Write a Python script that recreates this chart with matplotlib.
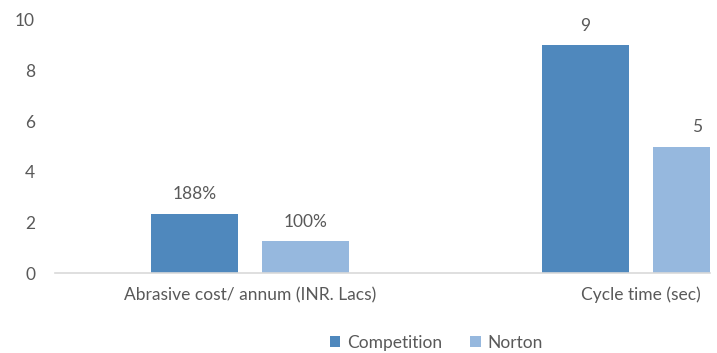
import numpy as np
import matplotlib.pyplot as plt

categories = ["Abrasive cost/ annum (INR. Lacs)", "Cycle time (sec)"]
competition = [2.35, 9]
norton = [1.25, 5]
competition_labels = ["188%", "9"]
norton_labels = ["100%", "5"]

c_dark = "#4f88bd"
c_light = "#96b8de"
txt = "#595959"
fs = 12.5

plt.rcParams["font.family"] = ["Lato", "DejaVu Sans"]

fig = plt.figure(figsize=(7.17, 3.53), dpi=100)
ax = fig.add_axes([54.5 / 717, 80 / 353, (710 - 54.5) / 717, 253 / 353])

x = np.arange(len(categories))
w = 0.2225
off = 0.142

b1 = ax.bar(x - off, competition, w, color=c_dark, label="Competition")
b2 = ax.bar(x + off, norton, w, color=c_light, label="Norton")

for bars, labs in [(b1, competition_labels), (b2, norton_labels)]:
    for r, lab in zip(bars, labs):
        ax.annotate(lab, (r.get_x() + r.get_width() / 2, r.get_height()),
                    xytext=(0, 8), textcoords="offset points",
                    ha="center", va="bottom", fontsize=fs, color=txt)

ax.set_xlim(-0.5, 1.176)
ax.set_ylim(0, 10)
ax.set_yticks([0, 2, 4, 6, 8, 10])
ax.set_xticks(x)
ax.set_xticklabels(categories)
ax.tick_params(axis="both", length=0, labelsize=fs, labelcolor=txt)
ax.tick_params(axis="y", pad=14)
ax.tick_params(axis="x", pad=10)

for s in ["top", "right", "left"]:
    ax.spines[s].set_visible(False)
ax.spines["bottom"].set_color("#d9d9d9")
ax.spines["bottom"].set_linewidth(1.2)

fig.legend(loc="center", bbox_to_anchor=(436.5 / 717, 10 / 353), ncol=2,
           frameon=False, fontsize=fs, labelcolor=txt,
           handlelength=0.6, handleheight=0.6, handletextpad=0.4,
           columnspacing=1.6)

fig.savefig("out.png", dpi=100)
